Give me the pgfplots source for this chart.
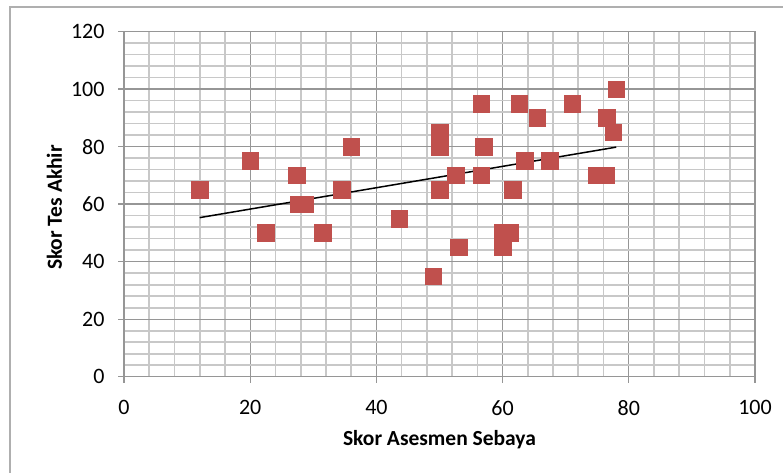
\documentclass[border=0pt]{standalone}
\usepackage{pgfplots}
\pgfplotsset{compat=1.18}
\usepackage{fontspec}
\setmainfont{Carlito}
\definecolor{mk}{RGB}{192,80,77}
\definecolor{majg}{RGB}{150,150,150}
\definecolor{ming}{RGB}{200,200,200}
\definecolor{frm}{RGB}{175,175,175}
\begin{document}
\begin{tikzpicture}[x=1bp,y=1bp]
\path[use as bounding box] (0,0) rectangle (783,-473);
\draw[frm, line width=1.5bp] (10,-473) -- (10,-7) -- (783,-7);
\begin{axis}[
  at={(124bp,-376.7bp)}, anchor=south west,
  scale only axis, width=631bp, height=345.2bp,
  xmin=0, xmax=100, ymin=0, ymax=120,
  xtick={0,20,...,100}, ytick={0,20,...,120},
  minor x tick num=4, minor y tick num=4,
  grid=both,
  major grid style={majg, line width=1.3bp},
  minor grid style={ming, line width=1.7bp},
  axis line style={majg, line width=1.3bp},
  tick style={majg, line width=1.3bp},
  major tick length=6bp, minor tick length=0pt,
  tick align=outside,
  xtick pos=bottom, ytick pos=left,
  ticklabel style={font=\fontsize{22bp}{26bp}\selectfont},
  xticklabel style={yshift=-14bp},
  yticklabel style={xshift=-10bp},
  /pgf/number format/assume math mode=true,
  xlabel={Skor Asesmen Sebaya},
  ylabel={Skor Tes Akhir},
  label style={font=\fontsize{21.5bp}{26bp}\selectfont\bfseries},
  xlabel style={at={(axis description cs:0.5,-0.198)}, anchor=base},
  ylabel style={at={(axis description cs:-0.0985,0.49)}, anchor=base},
]
\addplot[only marks, mark=square*, mark size=8.3bp, mark options={fill=mk, draw=mk}] coordinates {
(12,65) (20,75) (22.5,50) (27.4,70) (27.6,60) (28.7,60) (31.5,50) (34.5,65)
(36,80) (43.6,55) (49,35) (50,85) (50,80) (50,65) (52.6,70) (53,45)
(56.6,95) (56.6,70) (57,80) (61.6,65) (60,50) (61.2,50) (60,45) (62.6,95)
(65.5,90) (63.5,75) (67.5,75) (71,95) (74.8,70) (76.4,70) (78,100) (76.5,90)
(77.5,85)
};
\addplot[black, line width=1.5bp] coordinates {(12,55.3) (78,79.8)};
\end{axis}
\end{tikzpicture}
\end{document}
